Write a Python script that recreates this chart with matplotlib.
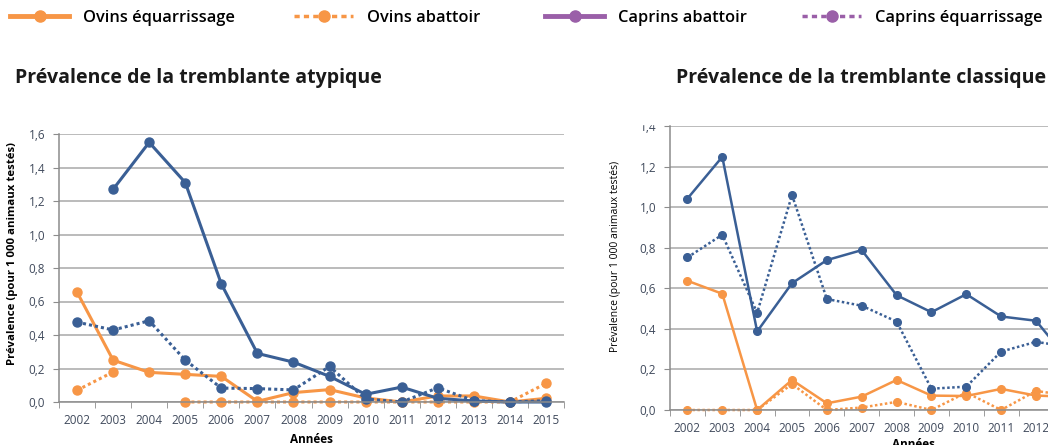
import numpy as np
import matplotlib
matplotlib.use("Agg")
import matplotlib.pyplot as plt
from matplotlib.lines import Line2D
from matplotlib.patches import Rectangle
from matplotlib.ticker import FuncFormatter

nan = np.nan
years = ["2002", "2003", "2004", "2005", "2006", "2007", "2008",
         "2009", "2010", "2011", "2012", "2013", "2014", "2015"]

# Prévalence de la tremblante atypique
aty_caprins_abattoir = [nan, 1.27, 1.55, 1.31, 0.705, 0.29, 0.238, 0.153,
                        0.046, 0.089, 0.022, 0.006, 0.0, 0.0]
aty_caprins_equarr = [0.477, 0.43, 0.485, 0.25, 0.083, 0.08, 0.072, 0.212,
                      0.018, 0.0, 0.085, 0.008, 0.0, 0.008]
aty_ovins_equarr = [0.656, 0.25, 0.177, 0.165, 0.153, 0.004, 0.056, 0.074,
                    0.024, 0.0, 0.036, 0.036, 0.0, 0.022]
aty_ovins_abattoir = [0.07, 0.179, nan, 0.0, 0.0, 0.0, 0.0, 0.0,
                      0.0, 0.0, 0.0, 0.0, 0.0, 0.111]

# Prévalence de la tremblante classique (visible part)
cla_caprins_abattoir = [1.042, 1.248, 0.387, 0.625, 0.739, 0.788, 0.566,
                        0.482, 0.571, 0.461, 0.44, 0.23, nan, nan]
cla_caprins_equarr = [0.752, 0.864, 0.479, 1.06, 0.547, 0.514, 0.436,
                      0.105, 0.115, 0.288, 0.336, 0.31, nan, nan]
cla_ovins_equarr = [0.637, 0.573, 0.0, 0.148, 0.033, 0.066, 0.148,
                    0.071, 0.069, 0.104, 0.071, 0.065, nan, nan]
cla_ovins_abattoir = [0.0, 0.0, 0.0, 0.128, 0.0, 0.012, 0.04,
                      0.0, 0.086, 0.0, 0.094, 0.07, nan, nan]

legend_labels = ["Ovins équarrissage", "Ovins abattoir",
                 "Caprins abattoir", "Caprins équarrissage"]

ORANGE = "#f79646"
BLUE = "#3a5f95"
PURPLE = "#9a5fa8"
GRID = "#a8a8a8"
TICKC = "#404a5c"

plt.rcParams["font.family"] = ["Open Sans", "DejaVu Sans"]

fig = plt.figure(figsize=(10.48, 4.45), dpi=100)

ax1 = fig.add_axes([59 / 1048, 1 - 402 / 445, 505 / 1048, 268 / 445])
ax2 = fig.add_axes([670 / 1048, 1 - 410 / 445, 488 / 1048, 284 / 445])

x = np.arange(len(years))
comma = FuncFormatter(lambda v, p: f"{v:.1f}".replace(".", ","))


def style(ax, ymax, ystep, xlabpad):
    ax.set_xlim(-0.5, len(years) - 0.5)
    ax.set_ylim(0, ymax)
    ax.set_yticks(np.arange(0, ymax + 1e-9, ystep))
    ax.yaxis.set_major_formatter(comma)
    ax.grid(axis="y", color=GRID, lw=1.1)
    ax.set_axisbelow(True)
    for s in ["top", "right"]:
        ax.spines[s].set_visible(False)
    for s in ["left", "bottom"]:
        ax.spines[s].set_color("#8c8c8c")
        ax.spines[s].set_linewidth(1.1)
    ax.set_xticks(x)
    ax.set_xticklabels(years)
    ax.set_xticks(np.arange(-0.5, len(years), 1.0), minor=True)
    ax.tick_params(axis="x", which="major", length=0, pad=9,
                   labelsize=8.5, labelcolor=TICKC)
    ax.tick_params(axis="x", which="minor", length=4, color="#8c8c8c")
    ax.tick_params(axis="y", length=4, color="#8c8c8c", labelsize=8.5,
                   labelcolor=TICKC, pad=6)
    ax.set_xlabel("Années", fontsize=8.5, fontweight="bold", labelpad=xlabpad)


def draw(ax, lw, ms, data):
    ca, ce, oe, oa = data
    ax.plot(x, oa, color=ORANGE, lw=lw, ls=(0, (1, 1)), marker="o", ms=ms)
    ax.plot(x, oe, color=ORANGE, lw=lw, marker="o", ms=ms)
    ax.plot(x, ce, color=BLUE, lw=lw, ls=(0, (1, 1)), marker="o", ms=ms)
    ax.plot(x, ca, color=BLUE, lw=lw, marker="o", ms=ms)


draw(ax1, 2.2, 6.5, (aty_caprins_abattoir, aty_caprins_equarr,
                     aty_ovins_equarr, aty_ovins_abattoir))
draw(ax2, 1.8, 5.5, (cla_caprins_abattoir, cla_caprins_equarr,
                     cla_ovins_equarr, cla_ovins_abattoir))
for ax in (ax1, ax2):
    for ln in ax.lines:
        ln.set_clip_on(False)

style(ax1, 1.6, 0.2, 4)
style(ax2, 1.4, 0.2, 2)
ax1.set_ylabel("Prévalence (pour 1 000 animaux testés)", fontsize=8.2,
               fontweight="bold")
ax1.yaxis.set_label_coords(-0.082, 0.555)
ax2.set_ylabel("Prévalence (pour 1 000 animaux testés)", fontsize=7.5)
ax2.yaxis.set_label_coords(-0.101, 0.542)

fig.text(15 / 1048, 1 - 78 / 445, "Prévalence de la tremblante atypique",
         fontsize=14, fontweight="bold", va="center", ha="left",
         color="#1a1a1a")
fig.text(676 / 1048, 1 - 78 / 445, "Prévalence de la tremblante classique",
         fontsize=14, fontweight="bold", va="center", ha="left",
         color="#1a1a1a")

handles = [
    Line2D([], [], color=ORANGE, lw=3.5, marker="o", ms=8),
    Line2D([], [], color=ORANGE, lw=2.5, ls=(0, (1.5, 1.2)), marker="o", ms=8),
    Line2D([], [], color=PURPLE, lw=3.5, marker="o", ms=8),
    Line2D([], [], color=PURPLE, lw=2.5, ls=(0, (1.5, 1.2)), marker="o", ms=8),
]
legend_x = [10, 294, 545, 802]
for h, lab, lx in zip(handles, legend_labels, legend_x):
    fig.legend([h], [lab], loc="center left",
               bbox_to_anchor=(lx / 1048, 1 - 18 / 445), frameon=False,
               prop={"size": 11.8, "weight": "semibold"}, handlelength=3.6,
               handletextpad=0.85, borderpad=0, borderaxespad=0)

# clip of the right panel top (label "1,4" half hidden)
fig.add_artist(Rectangle((600 / 1048, 1 - 124 / 445), 66 / 1048, 28 / 445,
                         transform=fig.transFigure, color="white", zorder=20))

fig.savefig("out.png", dpi=100, facecolor="white")
